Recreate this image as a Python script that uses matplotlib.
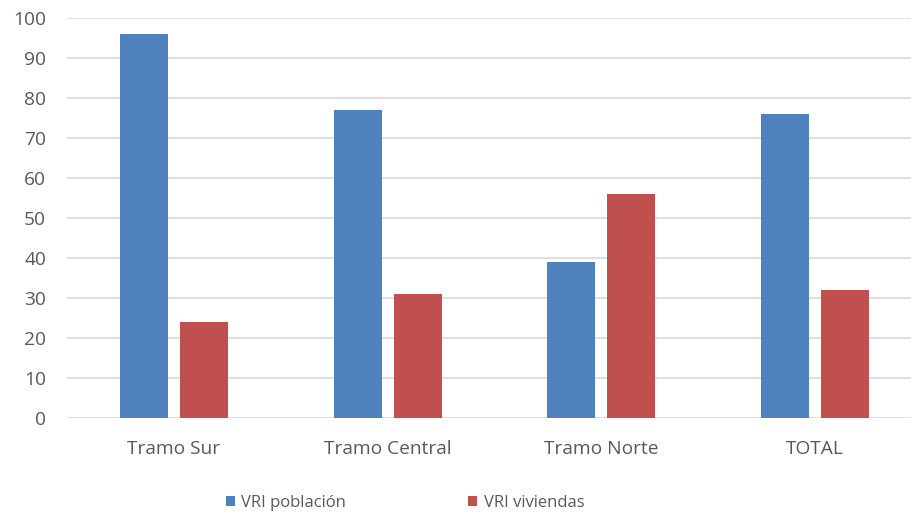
import matplotlib
matplotlib.use("Agg")
import matplotlib.pyplot as plt
import numpy as np

categories = ["Tramo Sur", "Tramo Central", "Tramo Norte", "TOTAL"]
vri_poblacion = [96, 77, 39, 76]
vri_viviendas = [24, 31, 56, 32]
y_ticks = [0, 10, 20, 30, 40, 50, 60, 70, 80, 90, 100]

plt.rcParams["font.family"] = ["Open Sans", "DejaVu Sans"]
text_color = "#595959"

fig = plt.figure(figsize=(9.12, 5.15), dpi=100)
ax = fig.add_axes([67 / 912, 1 - 418 / 515, 855 / 912, 400 / 515])

x = np.arange(len(categories))
w = 0.225
off = 0.14
ax.bar(x - off, vri_poblacion, width=w, color="#4F81BD", label="VRI población", zorder=3)
ax.bar(x + off, vri_viviendas, width=w, color="#C0504D", label="VRI viviendas", zorder=3)

ax.set_xlim(-0.5, 3.5)
ax.set_ylim(0, 100)
ax.set_yticks(y_ticks)
ax.set_xticks(x)
ax.set_xticklabels(categories)
ax.tick_params(axis="both", length=0, labelsize=13.8, colors=text_color)
ax.tick_params(axis="y", pad=15)
ax.tick_params(axis="x", pad=15.5)
ax.grid(axis="y", color="#D9D9D9", linewidth=1.2, zorder=0)
ax.set_axisbelow(True)
for s in ax.spines.values():
    s.set_visible(False)

leg = fig.legend(loc="center", bbox_to_anchor=(405 / 912, 1 - 503 / 515), ncol=2,
                 frameon=False, fontsize=12, handlelength=0.55, handleheight=0.55,
                 handletextpad=0.4, columnspacing=7.3)
for t in leg.get_texts():
    t.set_color(text_color)

fig.savefig("out.png", dpi=100)
